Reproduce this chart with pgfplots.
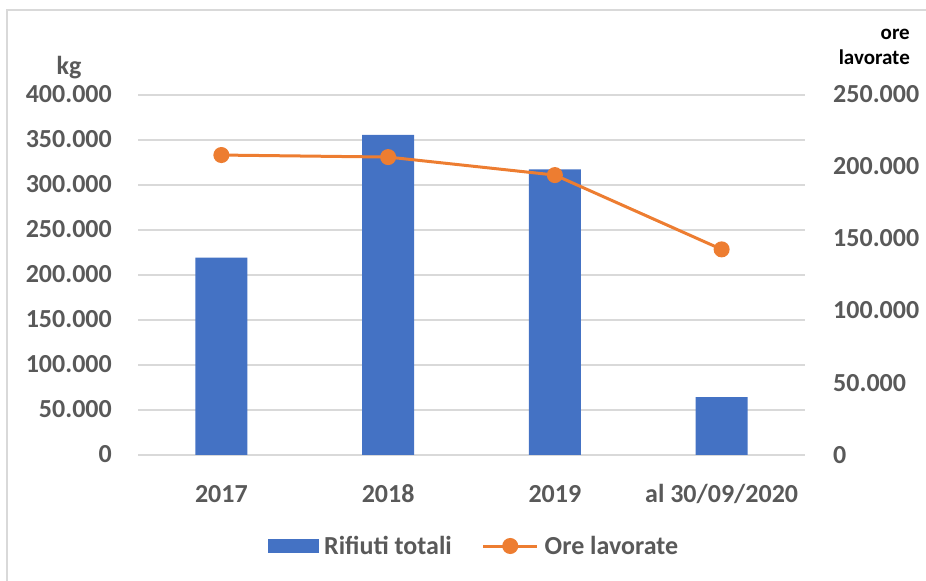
\documentclass[border=0pt]{standalone}
\usepackage{pgfplots}
\pgfplotsset{compat=1.18}
\usepackage{fontspec}
\setmainfont{Carlito}
\definecolor{barblue}{HTML}{4472C4}
\definecolor{lineorange}{HTML}{ED7D31}
\definecolor{gridgray}{HTML}{D9D9D9}
\definecolor{txtgray}{HTML}{595959}
\newcommand{\tf}{\fontsize{26bp}{30bp}\selectfont\bfseries}
\begin{document}
\begin{tikzpicture}
\useasboundingbox (0bp,0bp) rectangle (926bp,581bp);
\draw[gridgray, line width=2bp] (7bp,0bp) -- (7bp,571bp) -- (926bp,571bp);
\begin{axis}[
  at={(138bp,126bp)}, anchor=south west, scale only axis,
  width=667bp, height=360bp,
  xmin=-0.5, xmax=3.5, ymin=0, ymax=400000,
  scaled y ticks=false,
  ytick={0,50000,100000,150000,200000,250000,300000,350000,400000},
  yticklabels={0,50.000,100.000,150.000,200.000,250.000,300.000,350.000,400.000},
  xtick={0,1,2,3},
  xticklabels={2017,2018,2019,al 30/09/2020},
  axis line style={draw=none}, major tick style={draw=none},
  ymajorgrids, grid style={gridgray, line width=1.5bp},
  yticklabel style={font=\tf, text=txtgray, inner sep=0pt, anchor=east, xshift=-26bp, text height=16bp, text depth=0bp},
  xticklabel style={font=\tf, text=txtgray, inner sep=0pt, anchor=north, yshift=-26bp, text height=17bp, text depth=5bp},
  ybar, bar width=52bp, clip=false
]
\addplot[fill=barblue, draw=none] coordinates {(0,219300) (1,355600) (2,317400) (3,64400)};
\end{axis}
\begin{axis}[
  at={(138bp,126bp)}, anchor=south west, scale only axis,
  width=667bp, height=360bp,
  xmin=-0.5, xmax=3.5, ymin=0, ymax=250000,
  scaled y ticks=false,
  xtick=\empty,
  ytick={0,50000,100000,150000,200000,250000},
  yticklabels={0,50.000,100.000,150.000,200.000,250.000},
  yticklabel pos=right,
  axis line style={draw=none}, major tick style={draw=none},
  yticklabel style={font=\tf, text=txtgray, inner sep=0pt, anchor=west, xshift=28bp, text height=16bp, text depth=0bp},
  clip=false,
  legend columns=2,
  legend style={at={(0.5037,-0.2528)}, anchor=center, draw=none, fill=none,
    font=\tf, text=txtgray,
    /tikz/every even column/.append style={column sep=28bp}},
]
\addlegendimage{legend image code/.code={\fill[barblue] (0bp,-6.5bp) rectangle (50bp,6.5bp); \path (54bp,0bp);}}
\addlegendentry{Rifiuti totali}
\addplot[lineorange, line width=3bp, mark=*, mark size=6.5bp, mark options={fill=lineorange, draw=lineorange},
  legend image code/.code={\draw[lineorange, line width=3bp] (0bp,0bp) -- (54bp,0bp); \fill[lineorange] (27bp,0bp) circle (6.5bp); \path (58bp,0bp);}]
  coordinates {(0,208300) (1,206900) (2,194400) (3,142800)};
\addlegendentry{Ore lavorate}
\end{axis}
\node[anchor=base, font=\tf, text=txtgray, inner sep=0pt] at (69bp,506bp) {kg};
\node[anchor=base east, font=\fontsize{21bp}{25bp}\selectfont\bfseries, inner sep=0pt] at (910bp,541bp) {ore};
\node[anchor=base east, font=\fontsize{21bp}{25bp}\selectfont\bfseries, inner sep=0pt] at (910bp,516bp) {lavorate};
\end{tikzpicture}
\end{document}
